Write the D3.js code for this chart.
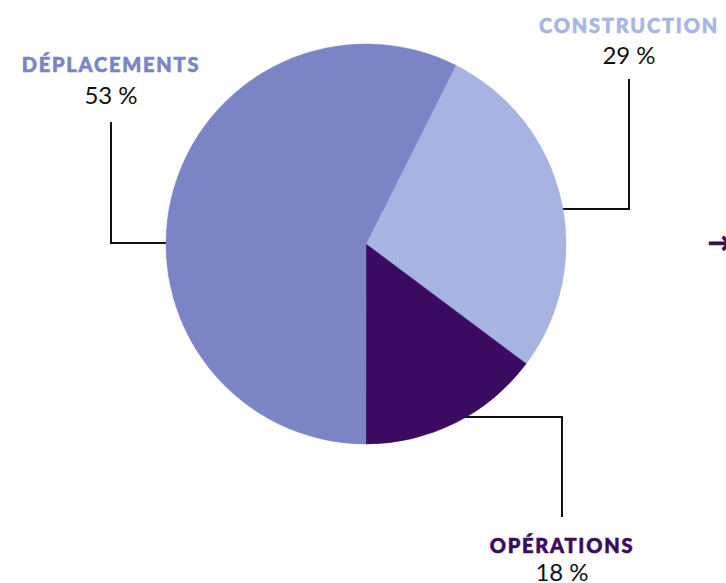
<!DOCTYPE html>
<html>
<head>
<meta charset="utf-8">
<script src="https://cdn.jsdelivr.net/npm/d3@7"></script>
<style>
  body { margin: 0; background: #fff; }
  .head { font-family: Lato, sans-serif; font-weight: 900; letter-spacing: 1.8px; }
  .pct { font-family: Lato, sans-serif; font-weight: 400; }
</style>
</head>
<body>
<svg id="chart"></svg>
<script>
// slice shares as drawn (angles), printed labels kept apart
const categories = ['CONSTRUCTION', 'OPÉRATIONS', 'DÉPLACEMENTS'];
const sliceShares = [27.8, 14.8, 57.4];
const pctLabels = ['29 %', '18 %', '53 %'];
const sliceColors = ['#a7b3e1', '#3a0b60', '#7b84c4'];
const headColors = ['#a9b5e3', '#3a0b60', '#7b84c4'];

const width = 726, height = 583;
const cx = 366, cy = 244, radius = 200;

// leader-line elbows: y of horizontal run, x of vertical run, y where it stops
const leaders = [
  { y: 209, x: 629, top: 79 },
  { y: 417, x: 562, top: 517 },
  { y: 243, x: 111, top: 122 }
];
// label anchors: x, heading baseline, value baseline
const labelPos = [
  { x: 629, hy: 33, vy: 64 },
  { x: 562, hy: 553, vy: 581 },
  { x: 111, hy: 72, vy: 104 }
];

const svg = d3.select('#chart')
  .attr('width', width)
  .attr('height', height);

const data = categories.map((c, i) => ({ name: c, share: sliceShares[i], i: i }));

// leader lines go first so the pie covers their inner end
svg.append('g')
  .selectAll('path')
  .data(data)
  .join('path')
    .attr('d', d => {
      const l = leaders[d.i];
      return `M${cx},${l.y}H${l.x}V${l.top}`;
    })
    .attr('fill', 'none')
    .attr('stroke', '#111')
    .attr('stroke-width', 2);

const startA = 26.7 * Math.PI / 180;
const pie = d3.pie()
  .sort(null)
  .value(d => d.share)
  .startAngle(startA)
  .endAngle(startA + 2 * Math.PI);

const arc = d3.arc().innerRadius(0).outerRadius(radius);

svg.append('g')
  .attr('transform', `translate(${cx},${cy})`)
  .selectAll('path')
  .data(pie(data))
  .join('path')
    .attr('d', arc)
    .attr('fill', d => sliceColors[d.data.i])
    .attr('stroke', d => sliceColors[d.data.i])
    .attr('stroke-width', 0.5);

const labels = svg.append('g')
  .selectAll('g')
  .data(data)
  .join('g');

labels.append('text')
  .attr('class', 'head')
  .attr('x', d => labelPos[d.i].x)
  .attr('y', d => labelPos[d.i].hy)
  .attr('text-anchor', 'middle')
  .attr('font-size', 20)
  .attr('fill', d => headColors[d.i])
  .attr('stroke', d => headColors[d.i])
  .attr('stroke-width', 0.6)
  .text(d => d.name);

labels.append('text')
  .attr('class', 'pct')
  .attr('x', d => labelPos[d.i].x)
  .attr('y', d => labelPos[d.i].vy)
  .attr('text-anchor', 'middle')
  .attr('font-size', 24)
  .attr('fill', '#111')
  .text(d => pctLabels[d.i]);

// arrow cut off at the right edge
svg.append('text')
  .attr('class', 'head')
  .attr('x', 708)
  .attr('y', 251)
  .attr('font-size', 24)
  .attr('fill', '#3a0b60')
  .attr('stroke', '#3a0b60')
  .attr('stroke-width', 1)
  .text('→');
</script>
</body>
</html>
